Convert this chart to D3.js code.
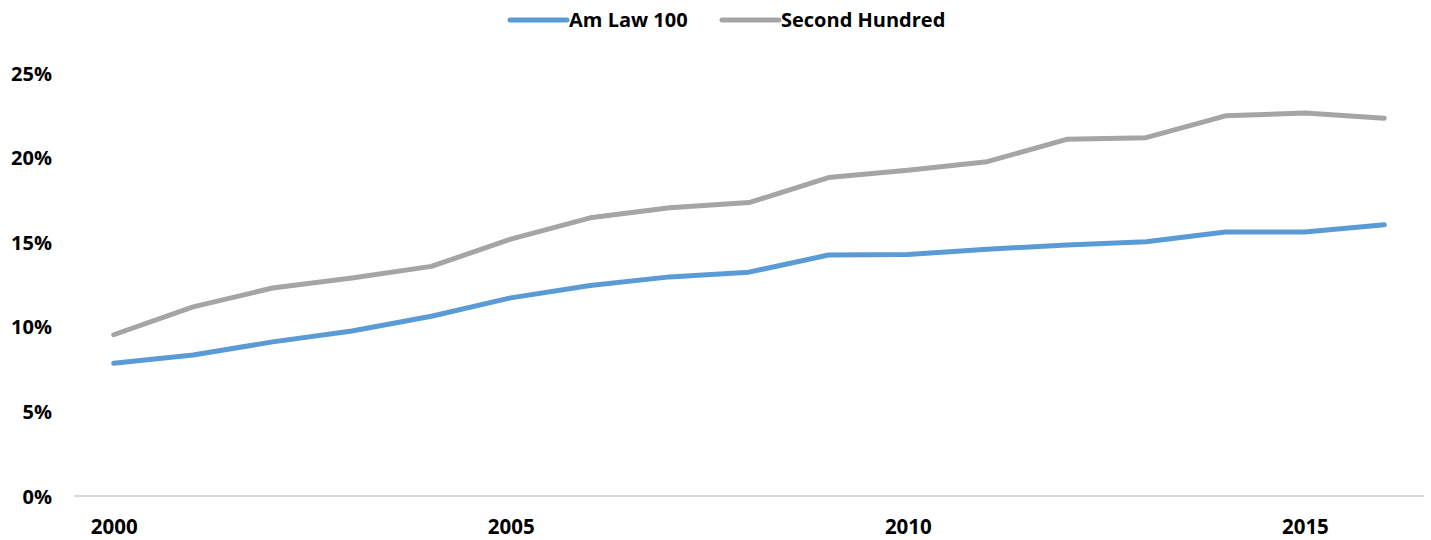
<!DOCTYPE html>
<html>
<head>
<meta charset="utf-8">
<script src="https://cdn.jsdelivr.net/npm/d3@7"></script>
<style>
  html, body { margin: 0; padding: 0; background: #fff; }
  svg { display: block; font-family: "Open Sans", "Lato", sans-serif; font-weight: 700; }
</style>
</head>
<body>
<svg id="chart" width="1431" height="540"></svg>
<script>
// Share of lawyers by year (fraction)
const years = [2000, 2001, 2002, 2003, 2004, 2005, 2006, 2007, 2008,
               2009, 2010, 2011, 2012, 2013, 2014, 2015, 2016];
const amLaw100 = [0.0785, 0.0833, 0.0911, 0.0975, 0.1062, 0.1171, 0.1244, 0.1295, 0.1323,
                  0.1424, 0.1427, 0.1459, 0.1483, 0.1503, 0.1560, 0.1560, 0.1603];
const secondHundred = [0.0953, 0.1118, 0.1229, 0.1288, 0.1357, 0.1518, 0.1644, 0.1704, 0.1734,
                       0.1882, 0.1925, 0.1976, 0.2108, 0.2118, 0.2247, 0.2263, 0.2233];
const yTicks = [0, 0.05, 0.10, 0.15, 0.20, 0.25];
const xTickLabels = [2000, 2005, 2010, 2015];
const seriesNames = ["Am Law 100", "Second Hundred"];
const seriesColors = ["#5B9BD5", "#A5A5A5"];

const svg = d3.select("#chart");

const x = d3.scalePoint().domain(years).range([74, 1424]).padding(0.5);
const y = d3.scaleLinear().domain([0, 0.25]).range([496, 73]);

// Baseline
svg.append("line")
  .attr("x1", 74).attr("x2", 1424)
  .attr("y1", y(0)).attr("y2", y(0))
  .attr("stroke", "#D9D9D9").attr("stroke-width", 2);

// Y axis labels
const yAxis = d3.axisLeft(y).tickValues(yTicks).tickFormat(d3.format(".0%")).tickSize(0).tickPadding(0);
const gy = svg.append("g").attr("transform", "translate(52,0)").call(yAxis);
gy.select(".domain").remove();
gy.selectAll("text").attr("font-size", 20).attr("font-family", "Open Sans").attr("font-weight", 700).attr("fill", "#000").attr("dy", "0.35em");

// X axis labels
const xAxis = d3.axisBottom(x).tickValues(xTickLabels).tickFormat(d3.format("d")).tickSize(0).tickPadding(0);
const gx = svg.append("g").attr("transform", "translate(0,527)").call(xAxis);
gx.select(".domain").remove();
gx.selectAll("text").attr("font-size", 20.5).attr("font-family", "Open Sans").attr("font-weight", 700).attr("fill", "#000").attr("dy", "0.35em");

// Lines
const line = d3.line().x((d, i) => x(years[i])).y(d => y(d));
[amLaw100, secondHundred].forEach((vals, k) => {
  svg.append("path")
    .datum(vals)
    .attr("d", line)
    .attr("fill", "none")
    .attr("stroke", seriesColors[k])
    .attr("stroke-width", 5)
    .attr("stroke-linecap", "round")
    .attr("stroke-linejoin", "round");
});

// Legend
const legendItems = [
  { name: seriesNames[0], color: seriesColors[0], x0: 510 },
  { name: seriesNames[1], color: seriesColors[1], x0: 722 }
];
const lg = svg.append("g");
legendItems.forEach(it => {
  lg.append("line")
    .attr("x1", it.x0).attr("x2", it.x0 + 57)
    .attr("y1", 20).attr("y2", 20)
    .attr("stroke", it.color).attr("stroke-width", 5).attr("stroke-linecap", "round");
  lg.append("text")
    .attr("x", it.x0 + 59).attr("y", 20).attr("dy", "0.35em")
    .attr("font-size", 20).attr("fill", "#000")
    .text(it.name);
});
</script>
</body>
</html>
